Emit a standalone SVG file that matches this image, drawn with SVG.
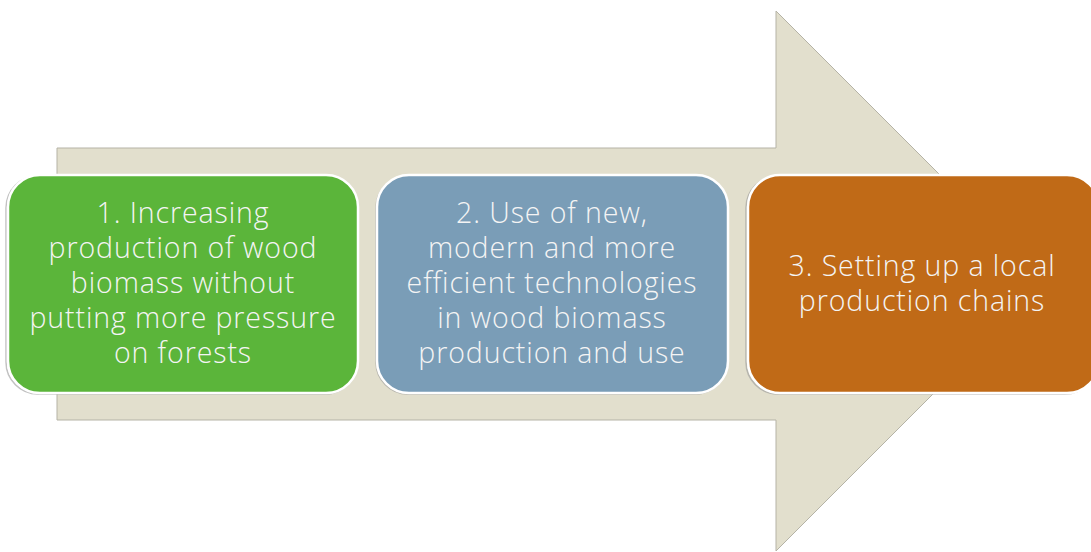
<svg xmlns="http://www.w3.org/2000/svg" width="1091" height="552" viewBox="0 0 1091 552">
<defs>
<style>
.box{stroke:#ffffff;stroke-width:2.5}
.sh{fill:none;stroke:#9a9a9a;stroke-width:1.5;opacity:0.6}
.t{font-family:"Open Sans","Liberation Sans",sans-serif;font-weight:300;font-size:28.5px;letter-spacing:0.9px;fill:#f4f4f4;text-anchor:middle}
</style>
</defs>
<rect width="1091" height="552" fill="#ffffff"/>
<g id="arrow">
<path d="M57,148 L776,148 L776,11 L1046,281 L776,551 L776,420 L57,420 Z" fill="#e2dfcd" stroke="#b5b3a6" stroke-width="1"/>
</g>
<g id="node1">
<rect class="sh" x="6" y="176" width="351" height="218" rx="32"/>
<rect class="box" x="8" y="175" width="350" height="218" rx="32" fill="#5bb53a"/>
<text class="t"><tspan x="183" y="223">1. Increasing</tspan><tspan x="183" y="258">production of wood</tspan><tspan x="183" y="293">biomass without</tspan><tspan x="183" y="328">putting more pressure</tspan><tspan x="183" y="363">on forests</tspan></text>
</g>
<g id="node2">
<rect class="sh" x="376" y="176" width="351" height="218" rx="32"/>
<rect class="box" x="377" y="175" width="351" height="218" rx="32" fill="#7a9db7"/>
<text class="t"><tspan x="552" y="223">2. Use of new,</tspan><tspan x="552" y="258">modern and more</tspan><tspan x="552" y="293">efficient technologies</tspan><tspan x="552" y="328">in wood biomass</tspan><tspan x="552" y="363">production and use</tspan></text>
</g>
<g id="node3">
<rect class="sh" x="746" y="176" width="351" height="218" rx="32"/>
<rect class="box" x="748" y="175" width="351" height="218" rx="32" fill="#c06a17"/>
<text class="t"><tspan x="922" y="276">3. Setting up a local</tspan><tspan x="922" y="311">production chains</tspan></text>
</g>
<g id="connectors"></g>
</svg>
